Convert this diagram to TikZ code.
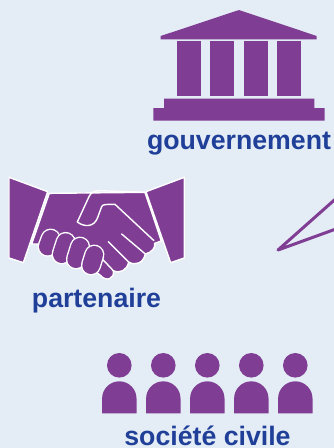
\documentclass[tikz,border=0pt]{standalone}
\usepackage{fontspec}
\setmainfont{Liberation Sans}
\definecolor{bgc}{HTML}{E4EDF5}
\definecolor{pur}{HTML}{803D94}
\definecolor{blu}{HTML}{1F3F98}
\tikzset{
 lab/.style={text=blu,font=\fontsize{26.7}{29}\selectfont\bfseries,inner sep=0pt,anchor=base},
 hs/.style={fill=pur,draw=white,line width=1.4pt,line join=round},
 wl/.style={draw=white,line width=1.4pt,line cap=round,line join=round},
 fingw/.style={draw=white,line width=20.2pt,line cap=round},
 fingp/.style={draw=pur,line width=17.4pt,line cap=round}
}
\newcommand{\person}[1]{%
 \fill[pur] (#1,365.3) circle (12.3);
 \fill[pur] (#1-17.2,413.3) -- (#1-17.2,398.5) arc[start angle=180,end angle=0,x radius=17.2,y radius=-17.2] -- (#1+17.2,413.3) -- cycle;}
\newcommand{\fing}[4]{%
 \draw[fingw] (#1,#2) -- (#3,#4);
 \draw[fingp] (#1,#2) -- (#3,#4);}
\begin{document}
\begin{tikzpicture}[x=1pt,y=-1pt]
\useasboundingbox (0,0) rectangle (334,448);
\fill[bgc] (0,0) rectangle (334,448);
% temple
\fill[pur] (239,10) -- (316.7,36) -- (316.7,39.3) -- (160.7,39.3) -- (160.7,36) -- cycle;
\foreach \x in {177.3,210.3,243.7,276.7} \fill[pur] (\x,41) rectangle (\x+24,96);
\fill[pur] (164,98.7) -- (314.3,98.7) -- (314.3,108) -- (324.7,108) -- (324.7,120.7) -- (153.3,120.7) -- (153.3,108) -- (164,108) -- cycle;
\node[lab] (gov) at (239,149) {gouvernement};
% triangle
\begin{scope}
\clip (0,0) rectangle (334,448);
\coordinate (ta) at (278,250);
\coordinate (tb) at (340,195);
\coordinate (tc) at (340,227.5);
\draw[pur,line width=3pt,line join=round] (tb) -- (ta) -- (tc);
\end{scope}
% handshake
\begin{scope}[x=0.3333pt,y=-0.3333pt,yshift=-160pt]
\path[hs] (27,52) -- (143,95) -- (70,308) -- (27,294) -- cycle;
\path[hs] (553,52) -- (438,95) -- (512,308) -- (553,294) -- cycle;
\path[hs] (148,100) -- (435,97) -- (484,243) -- (464,250) .. controls (468,262) and (455,278) .. (436,282) .. controls (430,310) and (405,318) .. (386,306) .. controls (382,330) and (360,342) .. (340,332) .. controls (345,355) and (320,368) .. (300,345) -- (280,330) -- (130,252) -- (95,252) -- cycle;
\path[wl] (232,186) -- (268,108) .. controls (275,95) and (285,92) .. (300,92) -- (435,97);
\path[wl] (232,186) .. controls (255,203) and (282,200) .. (292,175) -- (305,140) .. controls (308,133) and (315,133) .. (345,133) -- (462,242);
\path[wl] (365,222) -- (436,282);
\path[wl] (325,245) -- (386,306);
\path[wl] (306,296) -- (340,332);
\fing{152}{236}{143}{260}
\fing{197}{246}{185}{283}
\fing{240}{260}{228}{298}
\fing{283}{284}{273}{316}
\end{scope}
\node[lab] (par) at (96.5,307) {partenaire};
% people
\person{119.3}\person{163.3}\person{207.3}\person{251.3}\person{295.3}
\node[lab] (soc) at (207.5,445) {société civile};
\end{tikzpicture}
\end{document}
